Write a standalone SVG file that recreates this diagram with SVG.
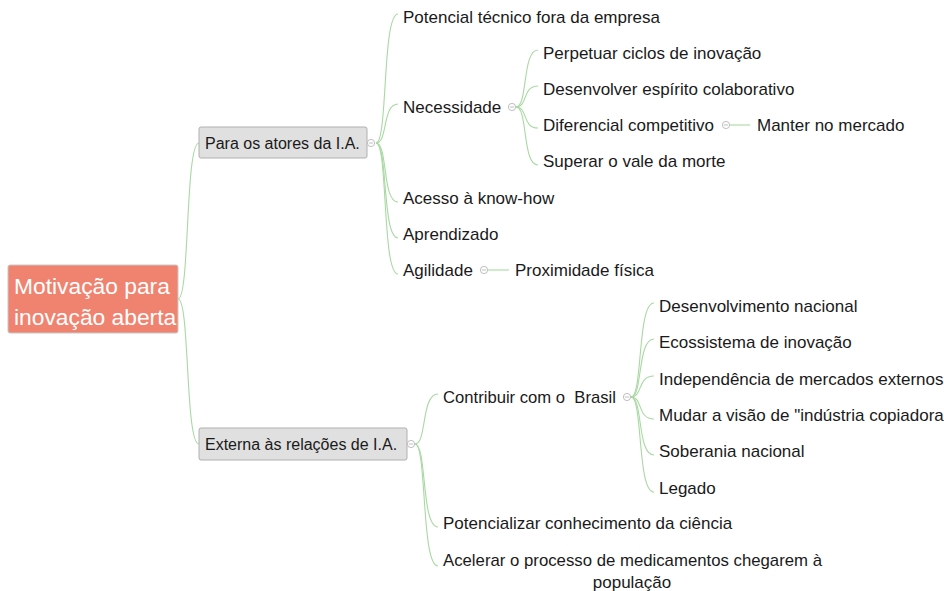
<svg xmlns="http://www.w3.org/2000/svg" width="944" height="591" viewBox="0 0 944 591">
  <style>
    .t { font-family: "Liberation Sans", Arial, sans-serif; font-size: 17px; fill: #1a1a1a; }
    .b { font-family: "Liberation Sans", Arial, sans-serif; font-size: 16px; fill: #1a1a1a; }
    .root { font-family: "Liberation Sans", Arial, sans-serif; font-size: 22.8px; fill: #ffffff; }
    .link { fill: none; stroke: #a9d9a3; stroke-width: 1.1; }
    .box { fill: #e0e0e0; stroke: #b0b0b0; stroke-width: 1; }
    .fold circle { fill: #ffffff; stroke: #b8b8b8; stroke-width: 0.9; }
    .fold line { stroke: #b8b8b8; stroke-width: 0.9; }
  </style>
  <defs>
    <g id="fold" class="fold">
      <circle cx="0" cy="0" r="3.6"/>
      <line x1="-2" y1="0" x2="2" y2="0"/>
    </g>
  </defs>
  <rect width="944" height="591" fill="#ffffff"/>

  <!-- connectors -->
  <g id="connectors">
    <!-- root -> level 1 -->
    <path class="link" d="M178 299 C190 299 185 143 199 143"/>
    <path class="link" d="M178 299 C190 299 185 444 199 444"/>
    <!-- Para os atores -> children -->
    <path class="link" d="M376 143 C388 143 382 14 398 14"/>
    <path class="link" d="M376 143 C388 143 382 104 398 104"/>
    <path class="link" d="M376 143 C388 143 382 202 398 202"/>
    <path class="link" d="M376 143 C388 143 382 238 398 238"/>
    <path class="link" d="M376 143 C388 143 382 274 398 274"/>
    <!-- Necessidade -> children -->
    <path class="link" d="M516 107 C528 107 522 50 538 50"/>
    <path class="link" d="M516 107 C528 107 522 86 538 86"/>
    <path class="link" d="M516 107 C528 107 522 128 538 128"/>
    <path class="link" d="M516 107 C528 107 522 165 538 165"/>
    <!-- Diferencial -> Manter -->
    <path class="link" d="M730 125 L750 125"/>
    <!-- Agilidade -> Proximidade -->
    <path class="link" d="M488 270 L509 270"/>
    <!-- Externa -> children -->
    <path class="link" d="M415 444 C427 444 421 394 438 394"/>
    <path class="link" d="M415 444 C427 444 421 527 438 527"/>
    <path class="link" d="M415 444 C427 444 421 566 438 566"/>
    <!-- Contribuir -> children -->
    <path class="link" d="M631 397 C643 397 637 303 654 303"/>
    <path class="link" d="M631 397 C643 397 637 339 654 339"/>
    <path class="link" d="M631 397 C643 397 637 376 654 376"/>
    <path class="link" d="M631 397 C643 397 637 419 654 419"/>
    <path class="link" d="M631 397 C643 397 637 455 654 455"/>
    <path class="link" d="M631 397 C643 397 637 492 654 492"/>
  </g>

  <!-- root -->
  <g id="root">
    <rect x="8" y="265" width="170" height="68" rx="2" fill="#f0836f" stroke="#c8c8c8" stroke-width="1"/>
    <text class="root" x="14" y="294">Motivação para</text>
    <text class="root" x="14" y="325">inovação aberta</text>
  </g>

  <!-- level 1 -->
  <g id="para-atores">
    <rect class="box" x="199" y="127" width="168" height="31" rx="2"/>
    <text class="b" x="205" y="149">Para os atores da I.A.</text>
    <use href="#fold" x="371" y="143"/>
  </g>
  <g id="externa">
    <rect class="box" x="199" y="428" width="208" height="32" rx="2"/>
    <text class="b" x="205" y="450">Externa às relações de I.A.</text>
    <use href="#fold" x="411" y="444"/>
  </g>

  <!-- children of Para os atores -->
  <g id="potencial-tecnico"><text class="t" x="403" y="23">Potencial técnico fora da empresa</text></g>
  <g id="necessidade">
    <text class="t" x="403" y="113">Necessidade</text>
    <use href="#fold" x="512" y="107"/>
  </g>
  <g id="perpetuar"><text class="t" x="543" y="59">Perpetuar ciclos de inovação</text></g>
  <g id="desenvolver"><text class="t" x="543" y="95">Desenvolver espírito colaborativo</text></g>
  <g id="diferencial">
    <text class="t" x="543" y="131">Diferencial competitivo</text>
    <use href="#fold" x="726" y="125"/>
  </g>
  <g id="manter"><text class="t" x="757" y="131">Manter no mercado</text></g>
  <g id="superar"><text class="t" x="543" y="167">Superar o vale da morte</text></g>
  <g id="acesso"><text class="t" x="403" y="204">Acesso à know-how</text></g>
  <g id="aprendizado"><text class="t" x="403" y="240">Aprendizado</text></g>
  <g id="agilidade">
    <text class="t" x="403" y="276">Agilidade</text>
    <use href="#fold" x="484" y="270"/>
  </g>
  <g id="proximidade"><text class="t" x="515" y="276">Proximidade física</text></g>

  <!-- children of Externa -->
  <g id="contribuir">
    <text class="t" x="443" y="403" xml:space="preserve" textLength="173" lengthAdjust="spacingAndGlyphs">Contribuir com o  Brasil</text>
    <use href="#fold" x="627" y="397"/>
  </g>
  <g id="desenvolvimento"><text class="t" x="659" y="312">Desenvolvimento nacional</text></g>
  <g id="ecossistema"><text class="t" x="659" y="348">Ecossistema de inovação</text></g>
  <g id="independencia"><text class="t" x="659" y="385">Independência de mercados externos</text></g>
  <g id="mudar"><text class="t" x="659" y="421">Mudar a visão de "indústria copiadora</text></g>
  <g id="soberania"><text class="t" x="659" y="457">Soberania nacional</text></g>
  <g id="legado"><text class="t" x="659" y="494">Legado</text></g>
  <g id="potencializar"><text class="t" x="443" y="529">Potencializar conhecimento da ciência</text></g>
  <g id="acelerar">
    <text class="t" x="443" y="566" textLength="379" lengthAdjust="spacingAndGlyphs">Acelerar o processo de medicamentos chegarem à</text>
    <text class="t" x="632" y="588" text-anchor="middle">população</text>
  </g>
</svg>
